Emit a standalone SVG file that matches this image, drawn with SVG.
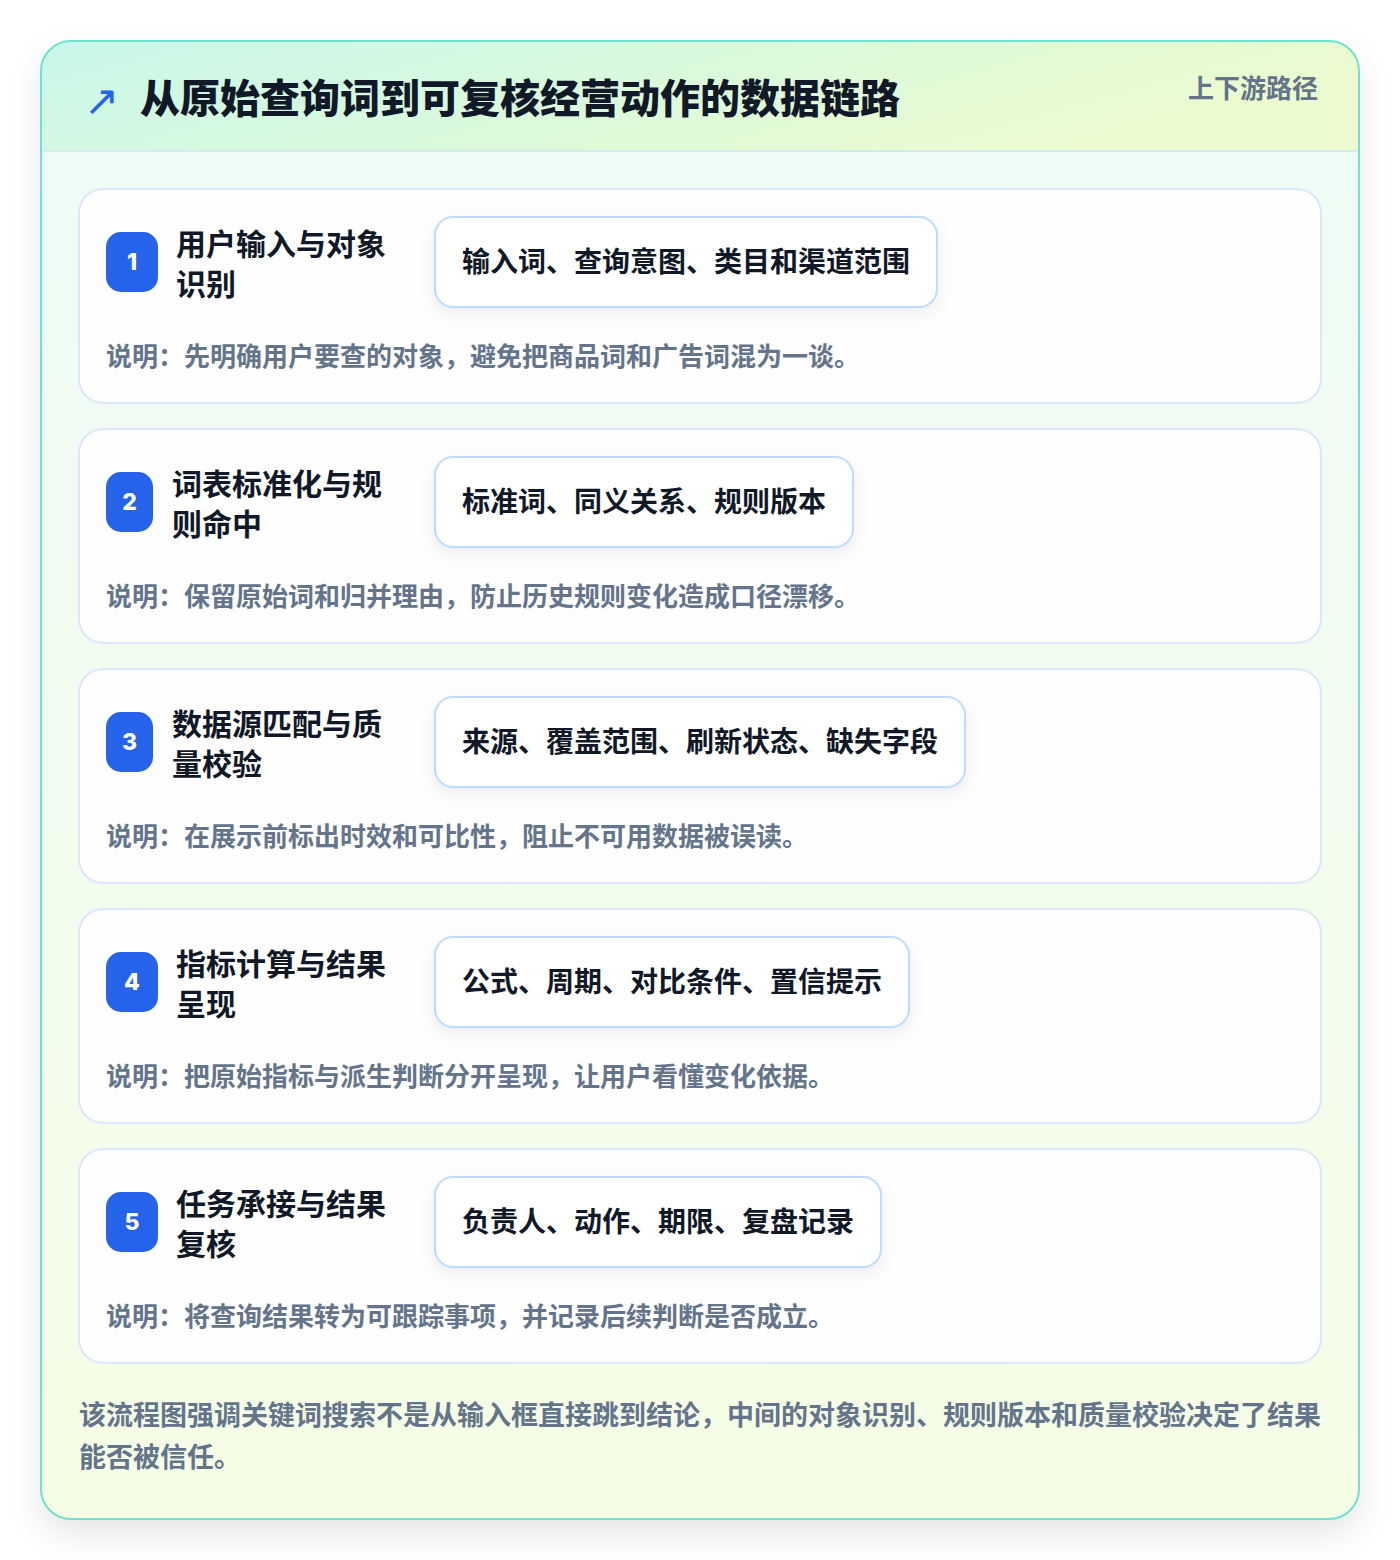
<svg xmlns="http://www.w3.org/2000/svg" width="1400" height="1560" viewBox="0 0 1400 1560">
<defs>
<linearGradient id="hdr" x1="0" y1="0" x2="1" y2="0.3">
<stop offset="0" stop-color="#c9f7ea"/>
<stop offset="0.5" stop-color="#d9f9dc"/>
<stop offset="1" stop-color="#ecfbcf"/>
</linearGradient>
<linearGradient id="body" x1="0" y1="0" x2="0" y2="1">
<stop offset="0" stop-color="#eefcf8"/>
<stop offset="1" stop-color="#f5fde5"/>
</linearGradient>
<filter id="outerShadow" x="-10%" y="-10%" width="120%" height="120%">
<feDropShadow dx="0" dy="14" stdDeviation="16" flood-color="#000000" flood-opacity="0.10"/>
</filter>
<filter id="pillShadow" x="-10%" y="-30%" width="120%" height="160%">
<feDropShadow dx="0" dy="6" stdDeviation="8" flood-color="#1e293b" flood-opacity="0.07"/>
</filter>
<clipPath id="outerClip"><rect x="41" y="41" width="1318" height="1478" rx="30"/></clipPath>
</defs>
<style>
.cjk{font-family:"Noto Sans CJK SC","Noto Sans",sans-serif;font-weight:700}
.title{font-size:40px;fill:#111827;font-weight:900}
.sub{font-size:26px;fill:#64748b}
.card{fill:#fdfefd;stroke:#dbe7fb;stroke-width:2}
.badge{fill:#2563eb}
.num{font-family:"Inter","Noto Sans",sans-serif;font-weight:800;font-size:23px;fill:#ffffff}
.ctitle{font-size:30px;fill:#111827}
.pill{fill:#ffffff;stroke:#bfdbfe;stroke-width:2}
.ptext{font-size:28px;fill:#111827}
.desc{font-size:26px;fill:#64748b}
.foot{font-size:27px;fill:#64748b}
</style>
<rect x="0" y="0" width="1400" height="1560" fill="#ffffff"/>
<g id="frame">
<rect x="41" y="41" width="1318" height="1478" rx="30" fill="url(#body)" filter="url(#outerShadow)"/>
<g clip-path="url(#outerClip)">
<rect x="41" y="41" width="1318" height="110" fill="url(#hdr)"/>
<line x1="41" y1="151" x2="1359" y2="151" stroke="#d5e9ef" stroke-width="2"/>
</g>
<rect x="41" y="41" width="1318" height="1478" rx="30" fill="none" stroke="#6fe3cf" stroke-width="2"/>
</g>
<g id="header">
<text x="84" y="115" font-family="DejaVu Sans,sans-serif" font-size="42" fill="#2563eb">↗</text>
<text class="cjk title" x="140" y="113">从原始查询词到可复核经营动作的数据链路</text>
<text class="cjk sub" x="1318" y="98" text-anchor="end">上下游路径</text>
</g>
<g id="node1">
<rect class="card" x="79" y="189" width="1242" height="214" rx="24"/>
<rect class="badge" x="106" y="232" width="52" height="60" rx="15"/>
<text class="num" x="132" y="270" text-anchor="middle">1</text>
<text class="cjk ctitle" x="176" y="255">用户输入与对象</text>
<text class="cjk ctitle" x="176" y="295">识别</text>
<rect class="pill" x="435" y="217" width="502" height="90" rx="18" filter="url(#pillShadow)"/>
<text class="cjk ptext" x="462" y="272">输入词、查询意图、类目和渠道范围</text>
<text class="cjk desc" x="106" y="366">说明：先明确用户要查的对象，避免把商品词和广告词混为一谈。</text>
</g>
<g id="node2">
<rect class="card" x="79" y="429" width="1242" height="214" rx="24"/>
<rect class="badge" x="106" y="472" width="47" height="60" rx="15"/>
<text class="num" x="129.5" y="510" text-anchor="middle">2</text>
<text class="cjk ctitle" x="172" y="495">词表标准化与规</text>
<text class="cjk ctitle" x="172" y="535">则命中</text>
<rect class="pill" x="435" y="457" width="418" height="90" rx="18" filter="url(#pillShadow)"/>
<text class="cjk ptext" x="462" y="512">标准词、同义关系、规则版本</text>
<text class="cjk desc" x="106" y="606">说明：保留原始词和归并理由，防止历史规则变化造成口径漂移。</text>
</g>
<g id="node3">
<rect class="card" x="79" y="669" width="1242" height="214" rx="24"/>
<rect class="badge" x="106" y="712" width="47" height="60" rx="15"/>
<text class="num" x="129.5" y="750" text-anchor="middle">3</text>
<text class="cjk ctitle" x="172" y="735">数据源匹配与质</text>
<text class="cjk ctitle" x="172" y="775">量校验</text>
<rect class="pill" x="435" y="697" width="530" height="90" rx="18" filter="url(#pillShadow)"/>
<text class="cjk ptext" x="462" y="752">来源、覆盖范围、刷新状态、缺失字段</text>
<text class="cjk desc" x="106" y="846">说明：在展示前标出时效和可比性，阻止不可用数据被误读。</text>
</g>
<g id="node4">
<rect class="card" x="79" y="909" width="1242" height="214" rx="24"/>
<rect class="badge" x="106" y="952" width="52" height="60" rx="15"/>
<text class="num" x="132" y="990" text-anchor="middle">4</text>
<text class="cjk ctitle" x="176" y="975">指标计算与结果</text>
<text class="cjk ctitle" x="176" y="1015">呈现</text>
<rect class="pill" x="435" y="937" width="474" height="90" rx="18" filter="url(#pillShadow)"/>
<text class="cjk ptext" x="462" y="992">公式、周期、对比条件、置信提示</text>
<text class="cjk desc" x="106" y="1086">说明：把原始指标与派生判断分开呈现，让用户看懂变化依据。</text>
</g>
<g id="node5">
<rect class="card" x="79" y="1149" width="1242" height="214" rx="24"/>
<rect class="badge" x="106" y="1192" width="52" height="60" rx="15"/>
<text class="num" x="132" y="1230" text-anchor="middle">5</text>
<text class="cjk ctitle" x="176" y="1215">任务承接与结果</text>
<text class="cjk ctitle" x="176" y="1255">复核</text>
<rect class="pill" x="435" y="1177" width="446" height="90" rx="18" filter="url(#pillShadow)"/>
<text class="cjk ptext" x="462" y="1232">负责人、动作、期限、复盘记录</text>
<text class="cjk desc" x="106" y="1326">说明：将查询结果转为可跟踪事项，并记录后续判断是否成立。</text>
</g>
<g id="connectors"/>
<g id="footer">
<text class="cjk foot" x="79" y="1425">该流程图强调关键词搜索不是从输入框直接跳到结论，中间的对象识别、规则版本和质量校验决定了结果</text>
<text class="cjk foot" x="79" y="1467">能否被信任。</text>
</g>
</svg>
